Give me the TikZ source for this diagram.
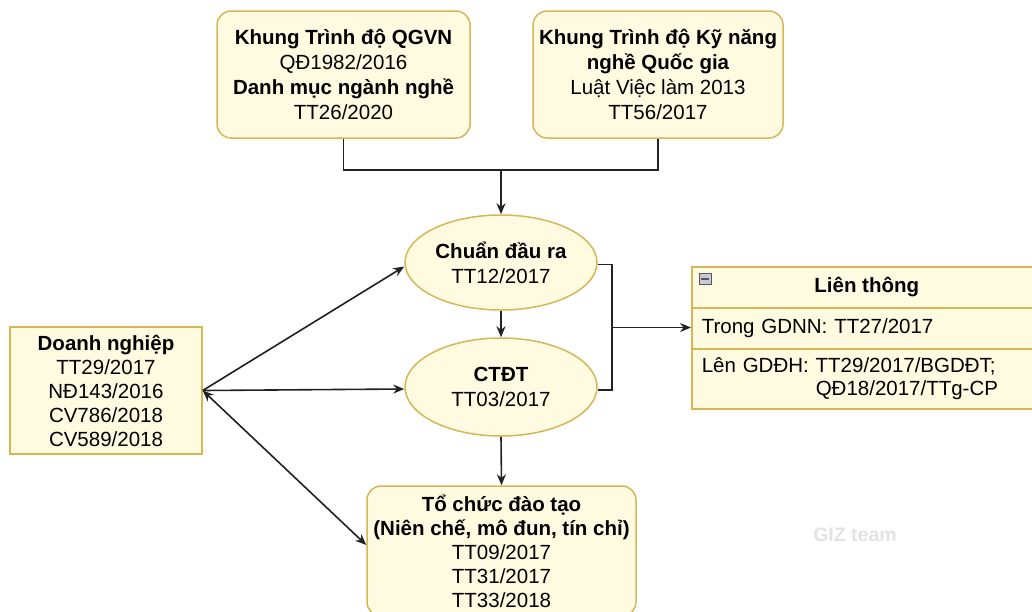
\documentclass[tikz,border=0pt]{standalone}
\usepackage{fontspec}
\setmainfont{Liberation Sans}
\usetikzlibrary{arrows.meta,shapes.geometric}
\definecolor{boxfill}{HTML}{FFFBE1}
\definecolor{boxline}{HTML}{D6B656}
\definecolor{linec}{HTML}{222222}
\definecolor{wm}{HTML}{E3E3E3}
\definecolor{icofill}{HTML}{C9CAD3}
\definecolor{icoline}{HTML}{55565E}
\begin{document}
\begin{tikzpicture}[x=1pt,y=-1pt,
 every node/.style={font=\fontsize{20.5}{25}\selectfont, text=black},
 yel/.style={draw=boxline, fill=boxfill, line width=1.5pt, inner sep=0pt, align=center},
 rbox/.style={yel, rectangle, rounded corners=14pt},
 sbox/.style={yel, rectangle},
 ell/.style={yel, ellipse},
 conn/.style={draw=linec, line width=1.6pt},
 arr/.style={conn, -{Stealth[length=11pt,width=9pt]}},
 darr/.style={conn, {Stealth[length=11pt,width=9pt]}-{Stealth[length=11pt,width=9pt]}},
 rowbox/.style={sbox, minimum width=350pt, anchor=north west, text width=330pt, align=left, inner xsep=10pt},
]
\useasboundingbox (0,0) rectangle (1032,611);
\fill[white] (0,0) rectangle (1032,611);

% top boxes
\node[rbox, minimum width=253pt, minimum height=127pt] (tl) at (343.5,74.5)
 {\textbf{Khung Trình độ QGVN}\\QĐ1982/2016\\\textbf{Danh mục ngành nghề}\\TT26/2020};
\node[rbox, minimum width=250pt, minimum height=127pt] (tr) at (658,74.5)
 {\textbf{Khung Trình độ Kỹ năng}\\\textbf{nghề Quốc gia}\\Luật Việc làm 2013\\TT56/2017};

% ellipses
\node[ell, minimum width=192pt, minimum height=95pt] (e1) at (501,262.5)
 {\textbf{Chuẩn đầu ra}\\TT12/2017};
\node[ell, minimum width=192pt, minimum height=98pt] (e2) at (501,387)
 {\textbf{CTĐT}\\TT03/2017};

% bottom box
\node[rbox, minimum width=269pt, minimum height=130pt, font=\fontsize{20.5}{24}\selectfont] (tc) at (501.5,551)
 {\textbf{Tổ chức đào tạo}\\\textbf{(Niên chế, mô đun, tín chỉ)}\\TT09/2017\\TT31/2017\\TT33/2018};

% left box
\node[sbox, minimum width=192pt, minimum height=127pt, font=\fontsize{20.5}{24}\selectfont] (dn) at (106,390.5)
 {\textbf{Doanh nghiệp}\\TT29/2017\\NĐ143/2016\\CV786/2018\\CV589/2018};

% Lien thong
\node[sbox, minimum width=350pt, minimum height=41pt, anchor=north west, font=\bfseries\fontsize{20.5}{25}\selectfont] (lt0) at (691,266) {Liên thông};
\node[rowbox, minimum height=41pt] (lt1) at (691,307) {Trong GDNN: TT27/2017};
\node[rowbox, minimum height=60pt, font=\fontsize{20.5}{23}\selectfont] (lt2) at (691,348)
 {Lên GDĐH: TT29/2017/BGDĐT;\\\hspace*{114pt}QĐ18/2017/TTg-CP};
\node[draw=icoline, fill=icofill, line width=0.8pt, minimum width=12pt, minimum height=11pt, inner sep=0pt] (mi) at (705,279) {};
\draw[icoline, line width=1.2pt] ([xshift=2.5pt]mi.west) -- ([xshift=-2.5pt]mi.east);

% watermark
\node[font=\bfseries\fontsize{19.5}{22}\selectfont, text=wm] (giz) at (855,535) {GIZ team};

% connectors
\coordinate (mj) at (501,170);
\draw[conn] (tl.south) |- (mj);
\draw[conn] (tr.south) |- (mj);
\draw[arr] (mj) -- (e1.north);
\draw[arr] (e1.south) -- (e2.north);
\draw[arr] (e2.south) -- (tc.north);

\coordinate (br) at (612,327.5);
\draw[conn] ([yshift=-2pt]e1.east) -| (br);
\draw[conn] ([yshift=-3pt]e2.east) -| (br);
\draw[arr] (br) -- (br -| lt1.west);

\draw[arr] (dn.east) -- ([yshift=-4pt]e1.west);
\draw[arr] (dn.east) -- ([yshift=-2pt]e2.west);
\draw[darr] (dn.east) -- ([yshift=6pt]tc.west);
\end{tikzpicture}
\end{document}
